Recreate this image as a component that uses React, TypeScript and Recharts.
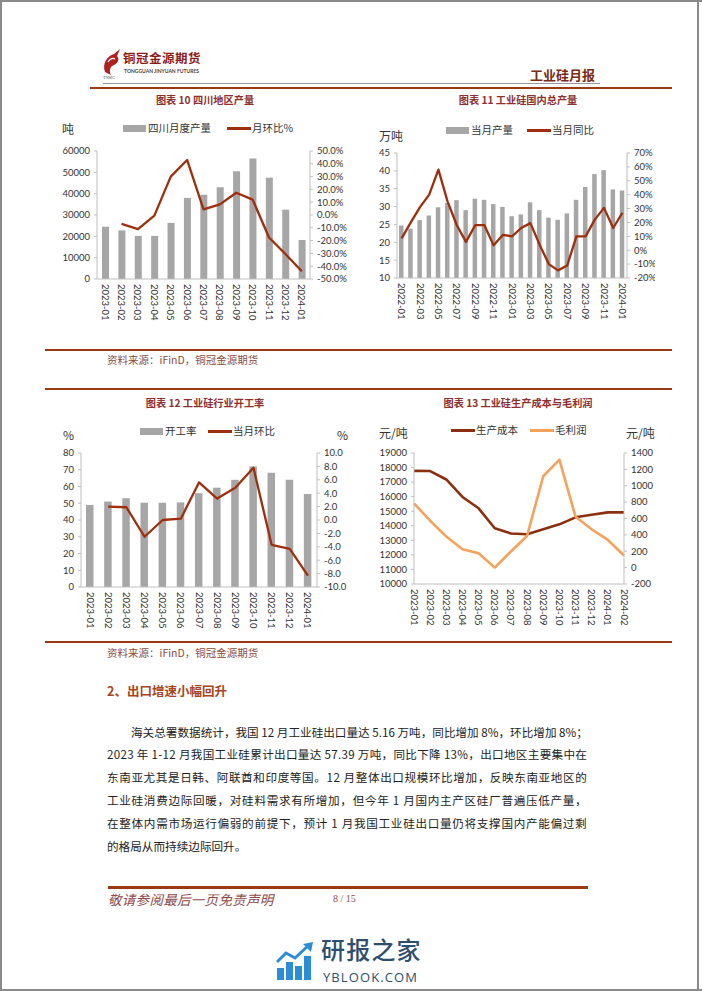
import React from 'react'
import { ComposedChart, Bar, Line, XAxis, YAxis } from 'recharts'

// ---- data ----
const months13 = ['2023-01', '2023-02', '2023-03', '2023-04', '2023-05', '2023-06', '2023-07', '2023-08', '2023-09', '2023-10', '2023-11', '2023-12', '2024-01']
const months14 = [...months13, '2024-02']
const months25 = [
  '2022-01', '2022-02', '2022-03', '2022-04', '2022-05', '2022-06', '2022-07', '2022-08', '2022-09', '2022-10', '2022-11', '2022-12',
  '2023-01', '2023-02', '2023-03', '2023-04', '2023-05', '2023-06', '2023-07', '2023-08', '2023-09', '2023-10', '2023-11', '2023-12',
  '2024-01',
]

// 图表10 四川地区产量
const scOutput = [24500, 22800, 20200, 20200, 26300, 38000, 39500, 43000, 50500, 56500, 47500, 32500, 18300]
const scMom = [null, -7, -11, -0.5, 30, 43, 4.4, 8.3, 17.4, 12, -17.6, -30.5, -44]

// 图表11 工业硅国内总产量
const cnOutput = [24.7, 23.8, 26.2, 27.5, 29.8, 31, 31.8, 29, 32.2, 31.9, 30.7, 29.9, 27.3, 27.8, 31.2, 29, 26.9, 26.3, 28.1, 31.9, 35.5, 39.1, 40.2, 34.8, 34.5]
const cnYoy = [8.5, 20, 31, 40, 58, 35, 18, 6, 18, 18, 3.5, 11, 10, 16, 19.5, 4, -10, -14.5, -11, 10, 10, 22, 30.5, 16, 27]

// 图表12 工业硅行业开工率
const runRate = [49, 51, 53, 50.3, 50.3, 50.5, 56, 59.3, 64, 72, 68.2, 64, 55.5]
const runMom = [null, 2.0, 1.9, -2.5, 0, 0.2, 5.6, 3.2, 4.8, 7.8, -3.7, -4.3, -8.3]

// 图表13 工业硅生产成本与毛利润
const cost = [17770, 17760, 17180, 15980, 15200, 13830, 13470, 13420, 13760, 14100, 14580, 14760, 14920, 14920]
const margin = [784, 573, 379, 225, 176, 0, 197, 387, 1116, 1318, 622, 468, 338, 148]

const ticks1L = [0, 10000, 20000, 30000, 40000, 50000, 60000]
const ticks1R = [-50, -40, -30, -20, -10, 0, 10, 20, 30, 40, 50]
const ticks2L = [10, 15, 20, 25, 30, 35, 40, 45]
const ticks2R = [-20, -10, 0, 10, 20, 30, 40, 50, 60, 70]
const ticks3L = [0, 10, 20, 30, 40, 50, 60, 70, 80]
const ticks3R = [-10, -8, -6, -4, -2, 0, 2, 4, 6, 8, 10]
const ticks4L = [10000, 11000, 12000, 13000, 14000, 15000, 16000, 17000, 18000, 19000]
const ticks4R = [-200, 0, 200, 400, 600, 800, 1000, 1200, 1400]

const paragraph = [
  '海关总署数据统计，我国 12 月工业硅出口量达 5.16 万吨，同比增加 8%，环比增加 8%；',
  '2023 年 1-12 月我国工业硅累计出口量达 57.39 万吨，同比下降 13%，出口地区主要集中在',
  '东南亚尤其是日韩、阿联酋和印度等国。12 月整体出口规模环比增加，反映东南亚地区的',
  '工业硅消费边际回暖，对硅料需求有所增加，但今年 1 月国内主产区硅厂普遍压低产量，',
  '在整体内需市场运行偏弱的前提下，预计 1 月我国工业硅出口量仍将支撑国内产能偏过剩',
  '的格局从而持续边际回升。',
]

const d1 = months13.map((m, i) => ({ m, v: scOutput[i], r: scMom[i] }))
const d2 = months25.map((m, i) => ({ m, v: cnOutput[i], r: cnYoy[i] }))
const d3 = months13.map((m, i) => ({ m, v: runRate[i], r: runMom[i] }))
const d4 = months14.map((m, i) => ({ m, c: cost[i], p: margin[i] }))

// ---- styles ----
const CJK = '"Noto Sans CJK SC", sans-serif'
const NUM = 'Lato, "Noto Sans", sans-serif'
const BAR = '#A6A6A6'
const RED = '#9E2E0C'
const DARK = '#8C2F0E'
const ORANGE = '#F6A25A'
const AX = '#BFBFBF'
const TX = '#333'
const RULE = '#9A3A12'
const TITLE = '#8E3030'

const yTick = { fontSize: 9.5, fill: TX, fontFamily: NUM }

function VTick(props: any) {
  const { x, y, payload } = props
  return (
    <g transform={`translate(${x},${y})`}>
      <text x={3} y={0} transform="rotate(90)" textAnchor="start" dominantBaseline="central" fontSize={9.5} fill={TX} fontFamily={NUM}>
        {payload.value}
      </text>
    </g>
  )
}

function Abs({ x, y, children, style }: any) {
  return <div style={{ position: 'absolute', left: x, top: y, whiteSpace: 'nowrap', ...style }}>{children}</div>
}

function Title({ cx, cy, text }: any) {
  return (
    <div style={{ position: 'absolute', left: cx - 150, top: cy - 8, width: 300, textAlign: 'center', fontSize: 10.2, lineHeight: '16px', fontWeight: 700, color: TITLE }}>
      {text}
    </div>
  )
}

function Rule({ x, y, w, h = 2.5, c = RULE }: any) {
  return <div style={{ position: 'absolute', left: x, top: y, width: w, height: h, background: c }} />
}

function LegBar({ x, y, label }: any) {
  return (
    <>
      <div style={{ position: 'absolute', left: x, top: y - 3.5, width: 23, height: 7, background: BAR }} />
      <Abs x={x + 25} y={y - 8} style={{ fontSize: 10.5, lineHeight: '16px', color: TX }}>{label}</Abs>
    </>
  )
}

function LegLine({ x, y, label, color }: any) {
  return (
    <>
      <div style={{ position: 'absolute', left: x, top: y - 1.5, width: 24, height: 3, background: color }} />
      <Abs x={x + 25} y={y - 8} style={{ fontSize: 10.5, lineHeight: '16px', color: TX }}>{label}</Abs>
    </>
  )
}

const axisProps = {
  axisLine: { stroke: AX },
  tickLine: { stroke: AX },
  tickSize: 3,
  tickMargin: 4,
  tick: yTick,
  interval: 0 as const,
}

function Chart1() {
  return (
    <div style={{ position: 'absolute', left: 55, top: 110 }}>
      <ComposedChart width={300} height={219} data={d1} margin={{ top: 41, right: 0, bottom: 0, left: 0 }}>
        <XAxis dataKey="m" interval={0} tick={<VTick />} tickLine={false} axisLine={{ stroke: AX }} height={50} tickSize={0} tickMargin={2} />
        <YAxis yAxisId="l" width={42} domain={[0, 60000]} ticks={ticks1L} {...axisProps} />
        <YAxis yAxisId="r" orientation="right" width={45} domain={[-50, 50]} ticks={ticks1R} tickFormatter={(v: number) => v.toFixed(1) + '%'} {...axisProps} />
        <Bar yAxisId="l" dataKey="v" fill={BAR} barSize={7} isAnimationActive={false} />
        <Line yAxisId="r" dataKey="r" stroke={RED} strokeWidth={2.3} dot={false} strokeLinejoin="round" isAnimationActive={false} />
      </ComposedChart>
    </div>
  )
}

function Chart2() {
  return (
    <div style={{ position: 'absolute', left: 355, top: 110 }}>
      <ComposedChart width={300} height={218} data={d2} margin={{ top: 43, right: 0, bottom: 0, left: 0 }}>
        <XAxis dataKey="m" interval={1} tick={<VTick />} tickLine={false} axisLine={{ stroke: AX }} height={50} tickSize={0} tickMargin={2} />
        <YAxis yAxisId="l" width={42} domain={[10, 45]} ticks={ticks2L} {...axisProps} />
        <YAxis yAxisId="r" orientation="right" width={28} domain={[-20, 70]} ticks={ticks2R} tickFormatter={(v: number) => v + '%'} {...axisProps} />
        <Bar yAxisId="l" dataKey="v" fill={BAR} barSize={4.5} isAnimationActive={false} />
        <Line yAxisId="r" dataKey="r" stroke={RED} strokeWidth={2.3} dot={false} strokeLinejoin="round" isAnimationActive={false} />
      </ComposedChart>
    </div>
  )
}

function Chart3() {
  return (
    <div style={{ position: 'absolute', left: 55, top: 390 }}>
      <ComposedChart width={300} height={242} data={d3} margin={{ top: 63, right: 0, bottom: 0, left: 0 }}>
        <XAxis dataKey="m" interval={0} tick={<VTick />} tickLine={false} axisLine={{ stroke: AX }} height={45} tickSize={0} tickMargin={2} />
        <YAxis yAxisId="l" width={26} domain={[0, 80]} ticks={ticks3L} {...axisProps} />
        <YAxis yAxisId="r" orientation="right" width={38} domain={[-10, 10]} ticks={ticks3R} tickFormatter={(v: number) => v.toFixed(1)} {...axisProps} />
        <Bar yAxisId="l" dataKey="v" fill={BAR} barSize={7.5} isAnimationActive={false} />
        <Line yAxisId="r" dataKey="r" stroke={RED} strokeWidth={2.3} dot={false} strokeLinejoin="round" isAnimationActive={false} />
      </ComposedChart>
    </div>
  )
}

function Chart4() {
  return (
    <div style={{ position: 'absolute', left: 355, top: 390 }}>
      <ComposedChart width={300} height={239} data={d4} margin={{ top: 63, right: 0, bottom: 0, left: 0 }}>
        <XAxis dataKey="m" interval={0} tick={<VTick />} tickLine={false} axisLine={{ stroke: AX }} height={45} tickSize={0} tickMargin={2} />
        <YAxis yAxisId="l" width={59} domain={[10000, 19000]} ticks={ticks4L} {...axisProps} />
        <YAxis yAxisId="r" orientation="right" width={31} domain={[-200, 1400]} ticks={ticks4R} {...axisProps} />
        <Line yAxisId="l" dataKey="c" stroke={DARK} strokeWidth={2.6} dot={false} strokeLinejoin="round" isAnimationActive={false} />
        <Line yAxisId="r" dataKey="p" stroke={ORANGE} strokeWidth={2.6} dot={false} strokeLinejoin="round" isAnimationActive={false} />
      </ComposedChart>
    </div>
  )
}

// one justified line: characters spread evenly across the width
function JLine({ text, left, top, width, spread }: any) {
  const chars = Array.from(text as string)
  return (
    <div
      style={{
        position: 'absolute',
        left,
        top,
        width,
        display: 'flex',
        justifyContent: spread ? 'space-between' : 'flex-start',
        fontSize: 11.6,
        lineHeight: '18px',
        color: '#222',
        whiteSpace: 'pre',
      }}
    >
      {chars.map((c, i) => (
        <span key={i}>{c}</span>
      ))}
    </div>
  )
}

export default function App() {
  return (
    <div style={{ position: 'absolute', left: 0, top: 0, width: 702, height: 991, background: '#fff', overflow: 'hidden', fontFamily: CJK }}>
      {/* page edges */}
      <Rule x={0} y={0} w={702} h={1.5} c="#8a8a8a" />
      <Rule x={0} y={0} w={1.5} h={991} c="#8a8a8a" />
      <Rule x={697} y={0} w={1.5} h={991} c="#8a8a8a" />
      <Rule x={0} y={989} w={702} h={1.5} c="#8a8a8a" />

      {/* header */}
      <svg style={{ position: 'absolute', left: 100, top: 48 }} width={22} height={30}>
        <path d="M5 24 C2 16 7 8 14 6 L20 1 L17 8 C20 11 18 16 12 18 C10 20 9 23 11 27 Z" fill="#B02020" />
        <path d="M8 14 C10 11 13 10 15 11" stroke="#fff" strokeWidth={1.2} fill="none" />
      </svg>
      <Abs x={103} y={75} style={{ fontSize: 4, lineHeight: '5px', color: '#555', fontFamily: 'Liberation Serif' }}>TNMG</Abs>
      <Abs x={123} y={50} style={{ fontSize: 12.5, lineHeight: '16px', fontWeight: 700, color: '#8B1A1A', letterSpacing: 0.5 }}>铜冠金源期货</Abs>
      <Abs x={124} y={68} style={{ fontSize: 5, lineHeight: '6px', fontWeight: 700, color: '#444', fontFamily: NUM }}>TONGGUAN JINYUAN FUTURES</Abs>
      <Abs x={530} y={66} style={{ fontSize: 13, lineHeight: '18px', fontWeight: 700, color: '#7A2A12' }}>工业硅月报</Abs>
      <Rule x={103} y={83} w={497} h={1} c="#9a9a9a" />
      <Rule x={90} y={86.5} w={582} h={2.5} />

      {/* upper charts */}
      <Title cx={205} cy={100} text="图表 10 四川地区产量" />
      <Title cx={518} cy={100} text="图表 11 工业硅国内总产量" />
      <Abs x={62} y={120} style={{ fontSize: 12, lineHeight: '18px', color: TX }}>吨</Abs>
      <Abs x={379} y={127} style={{ fontSize: 12, lineHeight: '18px', color: TX }}>万吨</Abs>
      <LegBar x={123} y={128} label="四川月度产量" />
      <LegLine x={227} y={128} label="月环比%" color={RED} />
      <LegBar x={446} y={130} label="当月产量" />
      <LegLine x={527} y={130} label="当月同比" color={RED} />
      <Chart1 />
      <Chart2 />

      <Rule x={45} y={348.5} w={627} />
      <Abs x={107} y={352} style={{ fontSize: 10.5, lineHeight: '16px', color: '#8C4B3C' }}>资料来源：iFinD，铜冠金源期货</Abs>
      <Rule x={45} y={387.5} w={627} />

      {/* lower charts */}
      <Title cx={205} cy={403} text="图表 12 工业硅行业开工率" />
      <Title cx={518} cy={403} text="图表 13 工业硅生产成本与毛利润" />
      <Abs x={63} y={426} style={{ fontSize: 12, lineHeight: '18px', color: TX }}>%</Abs>
      <Abs x={337} y={426} style={{ fontSize: 12, lineHeight: '18px', color: TX }}>%</Abs>
      <Abs x={379} y={424} style={{ fontSize: 12, lineHeight: '18px', color: TX }}>元/吨</Abs>
      <Abs x={626} y={424} style={{ fontSize: 12, lineHeight: '18px', color: TX }}>元/吨</Abs>
      <LegBar x={140} y={431} label="开工率" />
      <LegLine x={208} y={431} label="当月环比" color={RED} />
      <LegLine x={451} y={430} label="生产成本" color={DARK} />
      <LegLine x={530} y={430} label="毛利润" color={ORANGE} />
      <Chart3 />
      <Chart4 />

      <Rule x={45} y={640.5} w={627} />
      <Abs x={107} y={645} style={{ fontSize: 10.5, lineHeight: '16px', color: '#8C4B3C' }}>资料来源：iFinD，铜冠金源期货</Abs>

      {/* text section */}
      <Abs x={107} y={682} style={{ fontSize: 12.5, lineHeight: '18px', fontWeight: 700, color: '#A8451C' }}>2、出口增速小幅回升</Abs>
      {paragraph.map((line, i) => {
        const left = i === 0 ? 131 : 107
        return (
          <JLine key={i} text={line} left={left} top={722.5 + i * 22.9} width={587 - left} spread={i < paragraph.length - 1} />
        )
      })}

      {/* footer */}
      <Rule x={108} y={886} w={480} h={3} />
      <Abs x={108} y={890} style={{ fontSize: 13.5, lineHeight: '18px', fontStyle: 'italic', color: '#8E4A4A', letterSpacing: 0.3 }}>敬请参阅最后一页免责声明</Abs>
      <Abs x={333} y={892} style={{ fontSize: 10, lineHeight: '14px', color: '#8E4A4A', fontFamily: '"Liberation Serif", serif' }}>8 / 15</Abs>

      {/* watermark */}
      <svg style={{ position: 'absolute', left: 276, top: 942 }} width={40} height={40}>
        <rect x={1} y={26} width={7} height={12} fill="#2B8DD6" />
        <rect x={10} y={20} width={7} height={18} fill="#2B8DD6" />
        <rect x={19} y={24} width={7} height={14} fill="#2B8DD6" />
        <rect x={28} y={14} width={7} height={24} fill="#2B8DD6" />
        <polyline points="1,20 10,11 19,16 33,3" stroke="#2B8DD6" strokeWidth={3} fill="none" />
        <polygon points="27,2 37,0 35,10" fill="#2B8DD6" />
      </svg>
      <Abs x={321} y={936} style={{ fontSize: 24, lineHeight: '26px', fontWeight: 500, color: '#2D4E6E', letterSpacing: 1.2 }}>研报之家</Abs>
      <Abs x={323} y={970} style={{ fontSize: 13, lineHeight: '14px', color: '#2D4E6E', letterSpacing: 1.1, fontFamily: '"Open Sans", sans-serif' }}>YBLOOK.COM</Abs>
    </div>
  )
}
